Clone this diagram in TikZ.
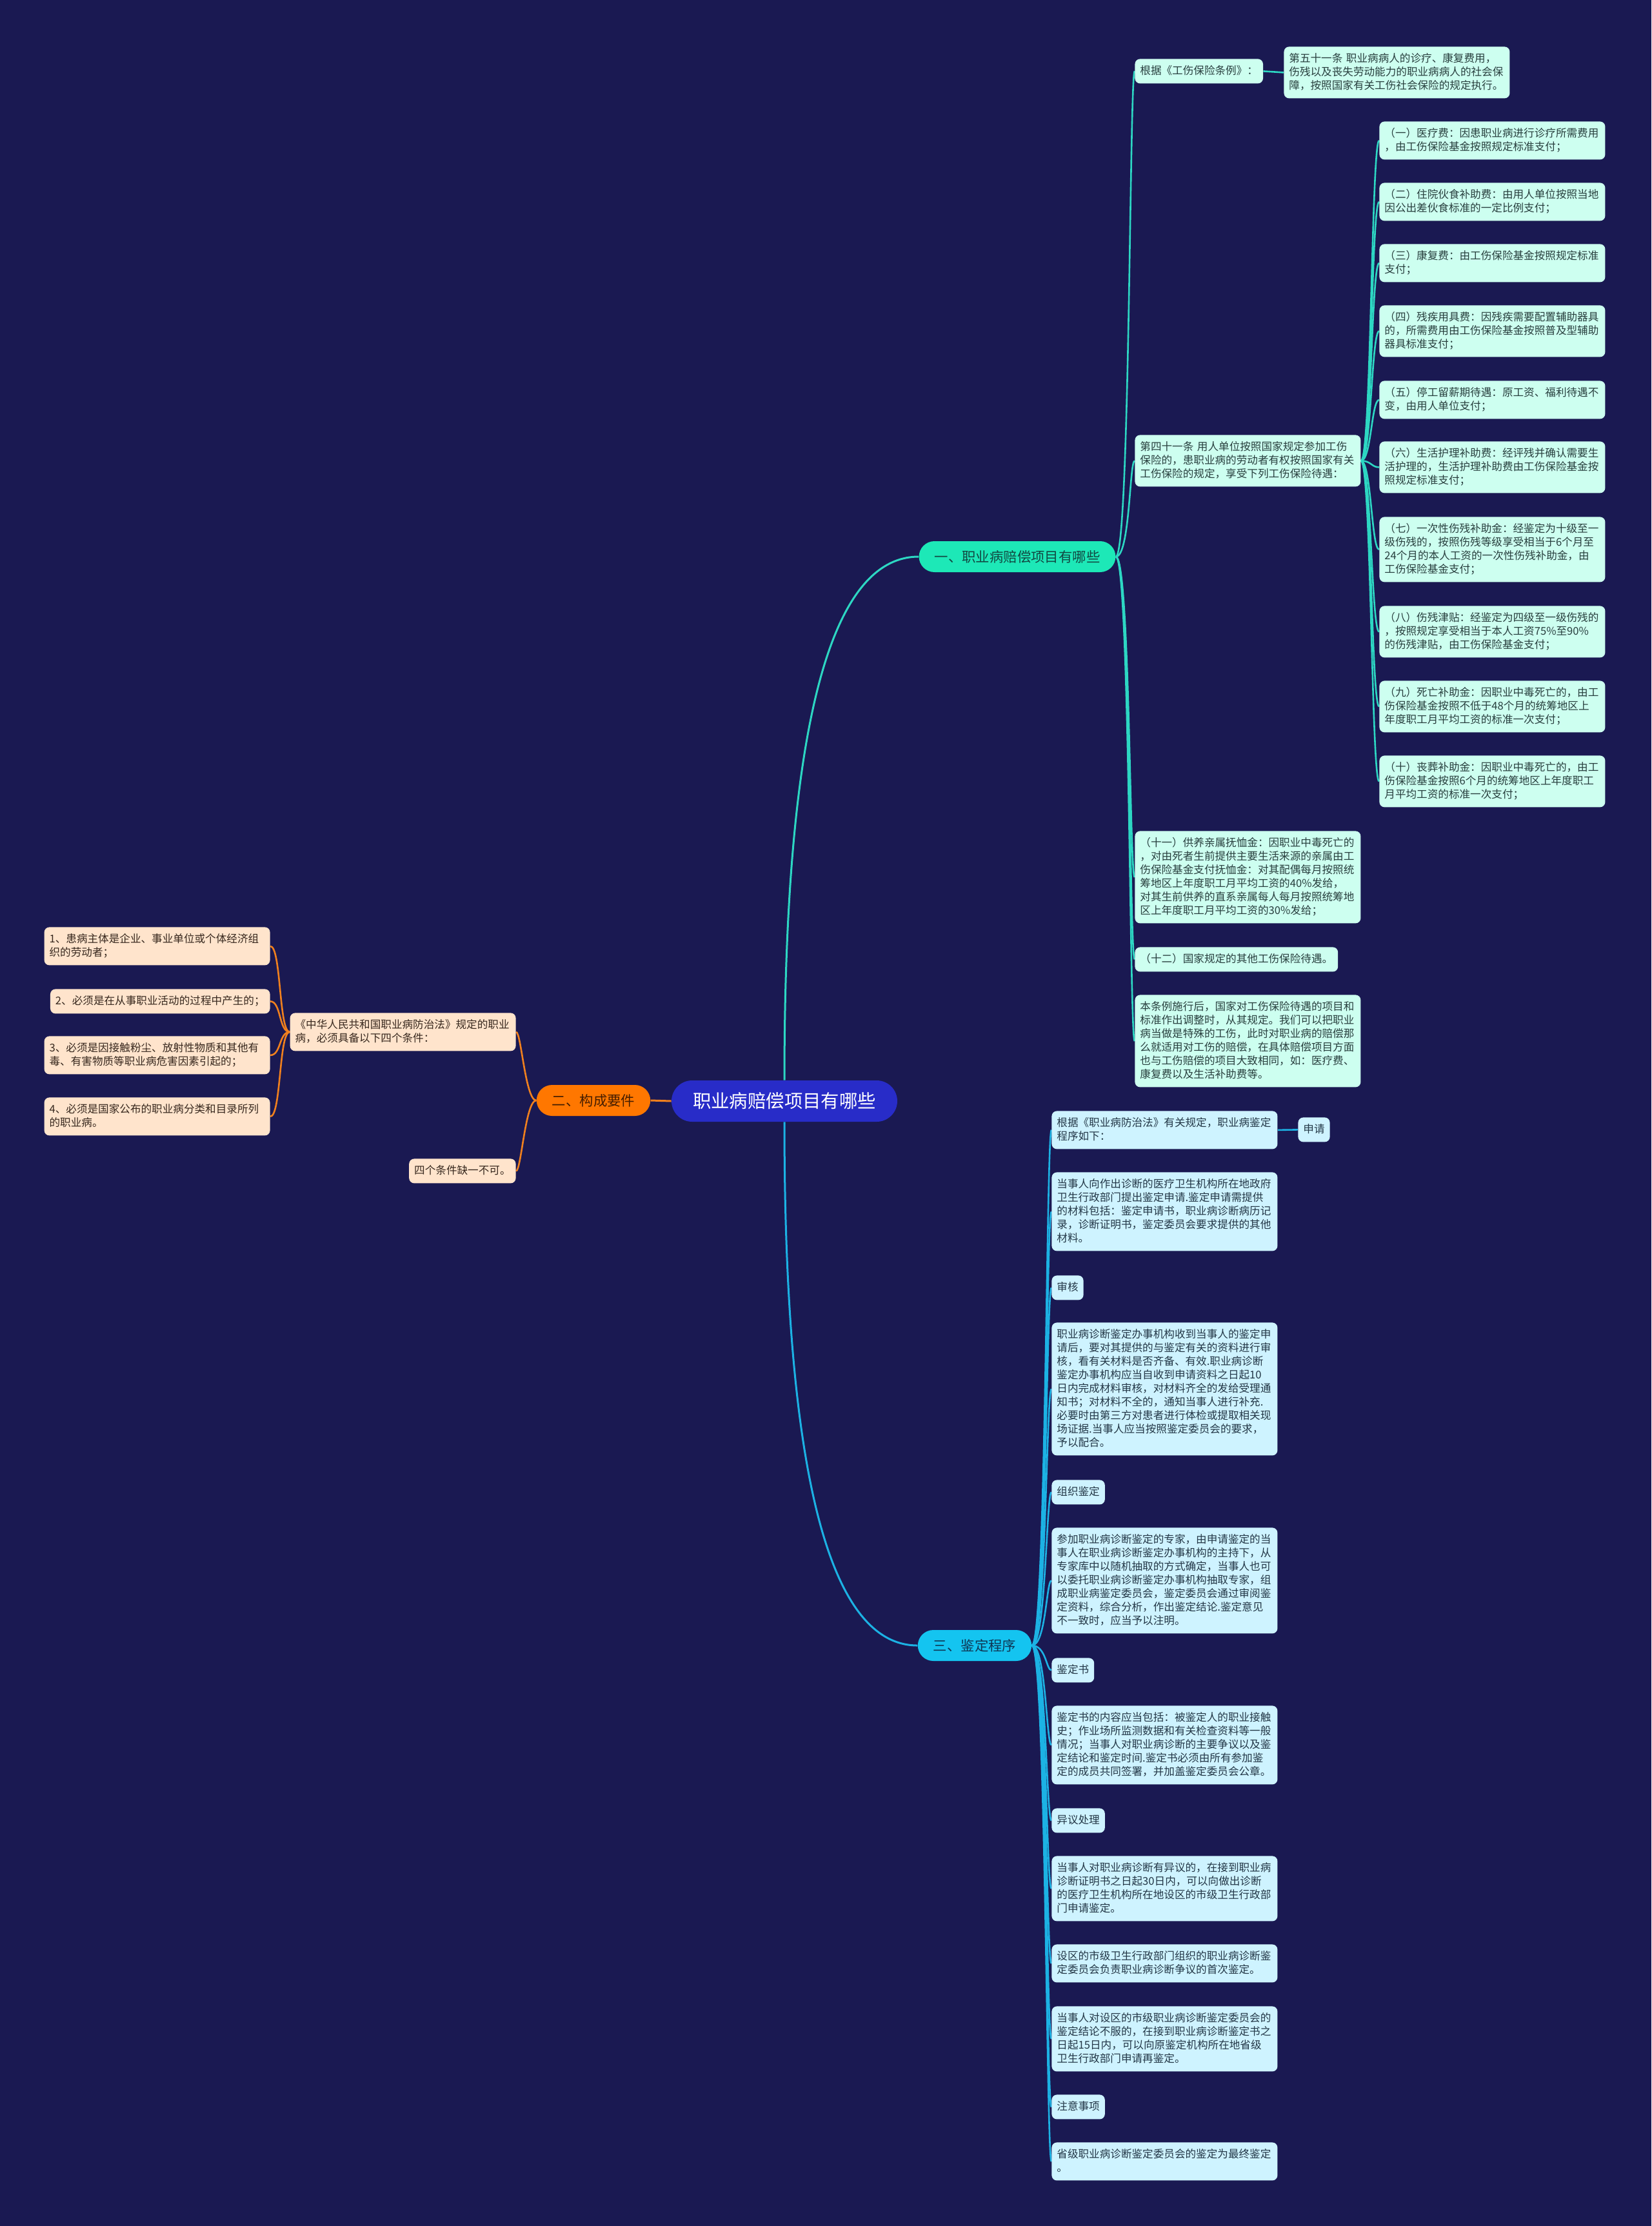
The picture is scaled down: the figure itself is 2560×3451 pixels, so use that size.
\documentclass[tikz,border=0pt]{standalone}
\usepackage{fontspec}
\setmainfont{Noto Sans CJK SC}
\usetikzlibrary{calc}
\setlength{\parindent}{0pt}
\pgfdeclarelayer{back}
\pgfdeclarelayer{lines}
\pgfsetlayers{back,lines,main}
\definecolor{bg}{RGB}{26,25,82}
\definecolor{rootfill}{RGB}{40,44,200}
\definecolor{bAfill}{RGB}{29,232,183}
\definecolor{bAtext}{RGB}{18,72,66}
\definecolor{bBfill}{RGB}{255,119,0}
\definecolor{bBtext}{RGB}{70,30,0}
\definecolor{bCfill}{RGB}{20,196,240}
\definecolor{bCtext}{RGB}{15,55,85}
\definecolor{lnAcol}{RGB}{45,215,195}
\definecolor{lnBcol}{RGB}{240,128,30}
\definecolor{lnCcol}{RGB}{28,178,228}
\definecolor{leafA}{RGB}{205,255,240}
\definecolor{leafB}{RGB}{255,228,204}
\definecolor{leafC}{RGB}{206,243,255}
\definecolor{txtA}{RGB}{40,62,62}
\definecolor{txtB}{RGB}{55,40,30}
\definecolor{txtC}{RGB}{35,55,70}
\tikzset{
  leaf/.style={rounded corners=4pt, inner xsep=4pt, inner ysep=4.5pt,
    font=\fontsize{8.3pt}{10.5pt}\selectfont, align=left,
    execute at begin node={\rule{0pt}{7.5pt}},
    execute at end node={\rule[-2.5pt]{0pt}{2.5pt}}},
  wide/.style={text width=167pt},
  lfa/.style={leaf, fill=leafA, text=txtA},
  lfb/.style={leaf, fill=leafB, text=txtB},
  lfc/.style={leaf, fill=leafC, text=txtC},
  brnode/.style={rounded corners=12pt, minimum height=24pt, inner xsep=12pt, inner ysep=0pt,
    font=\fontsize{10.7pt}{12pt}\selectfont},
  rootnode/.style={rounded corners=16pt, minimum height=32pt, inner xsep=16.5pt, inner ysep=0pt,
    fill=rootfill, text=white, font=\fontsize{14.2pt}{16pt}\selectfont},
  lnA/.style={draw=lnAcol, line width=1.3pt},
  lnB/.style={draw=lnBcol, line width=1.3pt},
  lnC/.style={draw=lnCcol, line width=1.3pt},
}
\begin{document}
\begin{tikzpicture}[x=0.5pt,y=-0.5pt]
\useasboundingbox (0,0) rectangle (2560,3451);
\begin{pgfonlayer}{back}
\fill[bg] (0,0) rectangle (2560,3451);
\end{pgfonlayer}

% root and branches
\node[rootnode] (root) at (1216,1707) {职业病赔偿项目有哪些};
\node[brnode, fill=bAfill, text=bAtext] (b1) at (1577,863) {一、职业病赔偿项目有哪些};
\node[brnode, fill=bBfill, text=bBtext] (b2) at (920,1706) {二、构成要件};
\node[brnode, fill=bCfill, text=bCtext] (b3) at (1511,2551) {三、鉴定程序};

% branch 1
\node[lfa, anchor=north west] (g1) at (1759,91) {根据《工伤保险条例》：};
\node[lfa, wide, anchor=north west] (g1a) at (1990,72) {第五十一条 职业病病人的诊疗、康复费用，\\伤残以及丧失劳动能力的职业病病人的社会保\\障，按照国家有关工伤社会保险的规定执行。};
\node[lfa, wide, anchor=north west] (g2) at (1759,674) {第四十一条 用人单位按照国家规定参加工伤\\保险的，患职业病的劳动者有权按照国家有关\\工伤保险的规定，享受下列工伤保险待遇：};
\node[lfa, wide, anchor=north west] (i1) at (2138,188) {（一）医疗费：因患职业病进行诊疗所需费用\\，由工伤保险基金按照规定标准支付；};
\node[lfa, wide, anchor=north west] (i2) at (2138,283) {（二）住院伙食补助费：由用人单位按照当地\\因公出差伙食标准的一定比例支付；};
\node[lfa, wide, anchor=north west] (i3) at (2138,378) {（三）康复费：由工伤保险基金按照规定标准\\支付；};
\node[lfa, wide, anchor=north west] (i4) at (2138,473) {（四）残疾用具费：因残疾需要配置辅助器具\\的，所需费用由工伤保险基金按照普及型辅助\\器具标准支付；};
\node[lfa, wide, anchor=north west] (i5) at (2138,590) {（五）停工留薪期待遇：原工资、福利待遇不\\变，由用人单位支付；};
\node[lfa, wide, anchor=north west] (i6) at (2138,684) {（六）生活护理补助费：经评残并确认需要生\\活护理的，生活护理补助费由工伤保险基金按\\照规定标准支付；};
\node[lfa, wide, anchor=north west] (i7) at (2138,801) {（七）一次性伤残补助金：经鉴定为十级至一\\级伤残的，按照伤残等级享受相当于6个月至\\24个月的本人工资的一次性伤残补助金，由\\工伤保险基金支付；};
\node[lfa, wide, anchor=north west] (i8) at (2138,939) {（八）伤残津贴：经鉴定为四级至一级伤残的\\，按照规定享受相当于本人工资75\%至90\%\\的伤残津贴，由工伤保险基金支付；};
\node[lfa, wide, anchor=north west] (i9) at (2138,1055) {（九）死亡补助金：因职业中毒死亡的，由工\\伤保险基金按照不低于48个月的统筹地区上\\年度职工月平均工资的标准一次支付；};
\node[lfa, wide, anchor=north west] (i10) at (2138,1171) {（十）丧葬补助金：因职业中毒死亡的，由工\\伤保险基金按照6个月的统筹地区上年度职工\\月平均工资的标准一次支付；};
\node[lfa, wide, anchor=north west] (g3) at (1759,1288) {（十一）供养亲属抚恤金：因职业中毒死亡的\\，对由死者生前提供主要生活来源的亲属由工\\伤保险基金支付抚恤金：对其配偶每月按照统\\筹地区上年度职工月平均工资的40\%发给，\\对其生前供养的直系亲属每人每月按照统筹地\\区上年度职工月平均工资的30\%发给；};
\node[lfa, anchor=north west] (g4) at (1759,1468) {（十二）国家规定的其他工伤保险待遇。};
\node[lfa, wide, anchor=north west] (g5) at (1759,1542) {本条例施行后，国家对工伤保险待遇的项目和\\标准作出调整时，从其规定。我们可以把职业\\病当做是特殊的工伤，此时对职业病的赔偿那\\么就适用对工伤的赔偿，在具体赔偿项目方面\\也与工伤赔偿的项目大致相同，如：医疗费、\\康复费以及生活补助费等。};

% branch 2
\node[lfb, wide, anchor=north east] (c1) at (800,1570) {《中华人民共和国职业病防治法》规定的职业\\病，必须具备以下四个条件：};
\node[lfb, anchor=north east] (c2) at (800,1796) {四个条件缺一不可。};
\node[lfb, wide, anchor=north east] (e1) at (419,1437) {1、患病主体是企业、事业单位或个体经济组\\织的劳动者；};
\node[lfb, anchor=north east] (e2) at (419,1533) {2、必须是在从事职业活动的过程中产生的；};
\node[lfb, wide, anchor=north east] (e3) at (419,1606) {3、必须是因接触粉尘、放射性物质和其他有\\毒、有害物质等职业病危害因素引起的；};
\node[lfb, wide, anchor=north east] (e4) at (419,1701) {4、必须是国家公布的职业病分类和目录所列\\的职业病。};

% branch 3
\node[lfc, wide, anchor=north west] (d1) at (1630,1722) {根据《职业病防治法》有关规定，职业病鉴定\\程序如下：};
\node[lfc, anchor=north west] (d1a) at (2012,1732) {申请};
\node[lfc, wide, anchor=north west] (d2) at (1630,1817) {当事人向作出诊断的医疗卫生机构所在地政府\\卫生行政部门提出鉴定申请.鉴定申请需提供\\的材料包括：鉴定申请书，职业病诊断病历记\\录，诊断证明书，鉴定委员会要求提供的其他\\材料。};
\node[lfc, anchor=north west] (d3) at (1630,1977) {审核};
\node[lfc, wide, anchor=north west] (d4) at (1630,2050) {职业病诊断鉴定办事机构收到当事人的鉴定申\\请后，要对其提供的与鉴定有关的资料进行审\\核，看有关材料是否齐备、有效.职业病诊断\\鉴定办事机构应当自收到申请资料之日起10\\日内完成材料审核，对材料齐全的发给受理通\\知书；对材料不全的，通知当事人进行补充.\\必要时由第三方对患者进行体检或提取相关现\\场证据.当事人应当按照鉴定委员会的要求，\\予以配合。};
\node[lfc, anchor=north west] (d5) at (1630,2294) {组织鉴定};
\node[lfc, wide, anchor=north west] (d6) at (1630,2368) {参加职业病诊断鉴定的专家，由申请鉴定的当\\事人在职业病诊断鉴定办事机构的主持下，从\\专家库中以随机抽取的方式确定，当事人也可\\以委托职业病诊断鉴定办事机构抽取专家，组\\成职业病鉴定委员会，鉴定委员会通过审阅鉴\\定资料，综合分析，作出鉴定结论.鉴定意见\\不一致时，应当予以注明。};
\node[lfc, anchor=north west] (d7) at (1630,2570) {鉴定书};
\node[lfc, wide, anchor=north west] (d8) at (1630,2644) {鉴定书的内容应当包括：被鉴定人的职业接触\\史；作业场所监测数据和有关检查资料等一般\\情况；当事人对职业病诊断的主要争议以及鉴\\定结论和鉴定时间.鉴定书必须由所有参加鉴\\定的成员共同签署，并加盖鉴定委员会公章。};
\node[lfc, anchor=north west] (d9) at (1630,2803) {异议处理};
\node[lfc, wide, anchor=north west] (d10) at (1630,2877) {当事人对职业病诊断有异议的，在接到职业病\\诊断证明书之日起30日内，可以向做出诊断\\的医疗卫生机构所在地设区的市级卫生行政部\\门申请鉴定。};
\node[lfc, wide, anchor=north west] (d11) at (1630,3014) {设区的市级卫生行政部门组织的职业病诊断鉴\\定委员会负责职业病诊断争议的首次鉴定。};
\node[lfc, wide, anchor=north west] (d12) at (1630,3110) {当事人对设区的市级职业病诊断鉴定委员会的\\鉴定结论不服的，在接到职业病诊断鉴定书之\\日起15日内，可以向原鉴定机构所在地省级\\卫生行政部门申请再鉴定。};
\node[lfc, anchor=north west] (d13) at (1630,3247) {注意事项};
\node[lfc, wide, anchor=north west] (d14) at (1630,3321) {省级职业病诊断鉴定委员会的鉴定为最终鉴定\\。};

% connectors
\begin{pgfonlayer}{lines}
\draw[lnA, line width=1.5pt] (root.north) .. controls ($(root.north)!0.667!(root.north |- b1.west)$) and ($(b1.west)!0.667!(root.north |- b1.west)$) .. (b1.west);
\draw[lnC, line width=1.5pt] (root.south) .. controls ($(root.south)!0.667!(root.south |- b3.west)$) and ($(b3.west)!0.667!(root.south |- b3.west)$) .. (b3.west);
\draw[lnB, line width=1.5pt] (root.west) -- (b2.east);
\foreach \c in {g1,g2,g3,g4,g5}
  \draw[lnA] (b1.east) .. controls +(22,0) and +(-8,0) .. (\c.west);
\draw[lnA] (g1.east) -- (g1a.west);
\foreach \c in {i1,i2,i3,i4,i5,i6,i7,i8,i9,i10}
  \draw[lnA] (g2.east) .. controls +(16,0) and +(-12,0) .. (\c.west);
\foreach \c in {c1,c2}
  \draw[lnB] (b2.west) .. controls +(-17,0) and +(8,0) .. (\c.east);
\foreach \c in {e1,e2,e3,e4}
  \draw[lnB] (c1.west) .. controls +(-17,0) and +(17,0) .. (\c.east);
\foreach \c in {d1,d2,d3,d4,d5,d6,d7,d8,d9,d10,d11,d12,d13,d14}
  \draw[lnC] (b3.east) .. controls +(22,0) and +(-8,0) .. (\c.west);
\draw[lnC] (d1.east) -- (d1a.west);
\end{pgfonlayer}
\end{tikzpicture}
\end{document}
